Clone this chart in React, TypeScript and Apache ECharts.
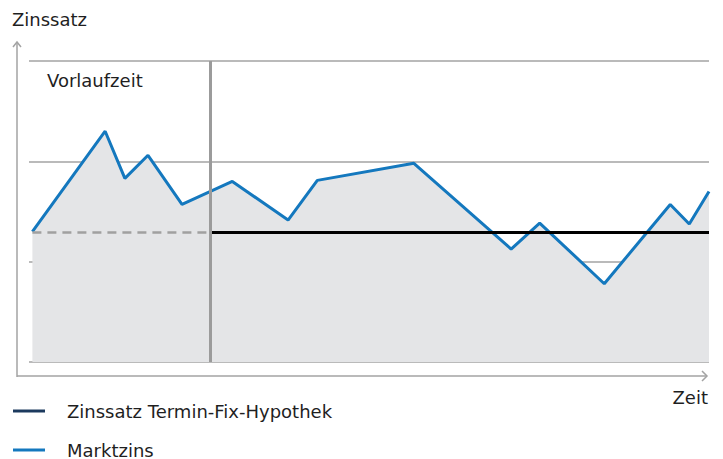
import React, { useEffect, useRef } from "react";
import * as echarts from "echarts";

// Zeit (0..100) and Zinssatz values
const marktX = [0.5, 11.2, 14.1, 17.5, 22.5, 29.9, 38.1, 42.4, 56.6, 70.9, 75.1, 84.6, 94.3, 97.1, 100];
const marktY = [1.3, 2.3, 1.83, 2.06, 1.57, 1.8, 1.415, 1.81, 1.98, 1.126, 1.385, 0.78, 1.57, 1.375, 1.7];
const fixRate = 1.29;
const fixStart = 26.6; // end of Vorlaufzeit
const fixEnd = 100;
const vorlaufStart = 0.5;
const seriesNames = ["Zinssatz Termin-Fix-Hypothek", "Marktzins"];
const FONT = "DejaVu Sans";
const FS = 18;

export default function App() {
  const ref = useRef<HTMLDivElement>(null);
  useEffect(() => {
    const chart = echarts.init(ref.current!, null, { renderer: "svg" });
    const markt = marktX.map((x, i) => [x, marktY[i]]);
    const axisColor = "#a3a3a3";
    chart.setOption({
      animation: false,
      grid: { left: 29, right: 14, top: 61, bottom: 97 },
      xAxis: {
        type: "value",
        min: 0,
        max: 100,
        axisLine: { show: false },
        axisTick: { show: false },
        axisLabel: { show: false },
        splitLine: { show: false },
      },
      yAxis: {
        type: "value",
        min: 0,
        max: 3,
        interval: 1,
        axisLine: { show: false },
        axisTick: { show: false },
        axisLabel: { show: false },
        splitLine: { show: true, lineStyle: { color: "#a3a3a3", width: 1.5 } },
      },
      legend: {
        orient: "vertical",
        left: 13,
        top: 402,
        height: 60,
        padding: 0,
        icon: "rect",
        itemWidth: 32,
        itemHeight: 3,
        itemGap: 21,
        selectedMode: false,
        textStyle: {
          fontFamily: FONT,
          fontSize: FS,
          color: "#1f1f1f",
          lineHeight: 16,
          padding: [0, 0, 0, 17],
        },
        data: [
          { name: seriesNames[0], itemStyle: { color: "#1c3a5e" } },
          { name: seriesNames[1], itemStyle: { color: "#1478be" } },
        ],
      },
      series: [
        {
          name: seriesNames[1],
          type: "line",
          data: markt,
          showSymbol: false,
          symbol: "none",
          z: 2,
          lineStyle: { color: "#1478be", width: 3 },
          itemStyle: { color: "#1478be" },
          areaStyle: { color: "#e4e5e7", opacity: 1, origin: "start" },
          markLine: {
            silent: true,
            symbol: "none",
            label: { show: false },
            lineStyle: { color: "#9b9b9b", width: 3, type: "solid" },
            data: [{ xAxis: fixStart }],
          },
        },
        {
          name: "Vorlauf",
          type: "line",
          data: [
            [vorlaufStart, fixRate],
            [fixStart, fixRate],
          ],
          symbol: "none",
          z: 3,
          lineStyle: { color: "#a0a0a0", width: 2.5, type: [9, 6] },
        },
        {
          name: seriesNames[0],
          type: "line",
          data: [
            [fixStart, fixRate],
            [fixEnd, fixRate],
          ],
          symbol: "none",
          z: 4,
          lineStyle: { color: "#000000", width: 3 },
          itemStyle: { color: "#1c3a5e" },
        },
      ],
      graphic: [
        {
          type: "line",
          shape: { x1: 17, y1: 377, x2: 17, y2: 42 },
          style: { stroke: axisColor, lineWidth: 1.5 },
        },
        {
          type: "polyline",
          shape: { points: [[13, 47], [17, 42], [21, 47]] },
          style: { stroke: axisColor, lineWidth: 1.5, fill: null },
        },
        {
          type: "line",
          shape: { x1: 17, y1: 376, x2: 707, y2: 376 },
          style: { stroke: axisColor, lineWidth: 1.5 },
        },
        {
          type: "polyline",
          shape: { points: [[702, 371], [707, 376], [702, 381]] },
          style: { stroke: axisColor, lineWidth: 1.5, fill: null },
        },
        {
          type: "text",
          left: 12,
          top: 10,
          style: { text: "Zinssatz", fontFamily: FONT, fontSize: FS, fill: "#1f1f1f" },
        },
        {
          type: "text",
          left: 47,
          top: 71,
          style: { text: "Vorlaufzeit", fontFamily: FONT, fontSize: FS, fill: "#1f1f1f" },
        },
        {
          type: "text",
          right: 15,
          top: 388,
          style: { text: "Zeit", fontFamily: FONT, fontSize: FS, fill: "#1f1f1f" },
        },
      ],
    });
    return () => chart.dispose();
  }, []);
  return <div ref={ref} style={{ width: 723, height: 459, position: "absolute", left: 0, top: 0 }} />;
}
